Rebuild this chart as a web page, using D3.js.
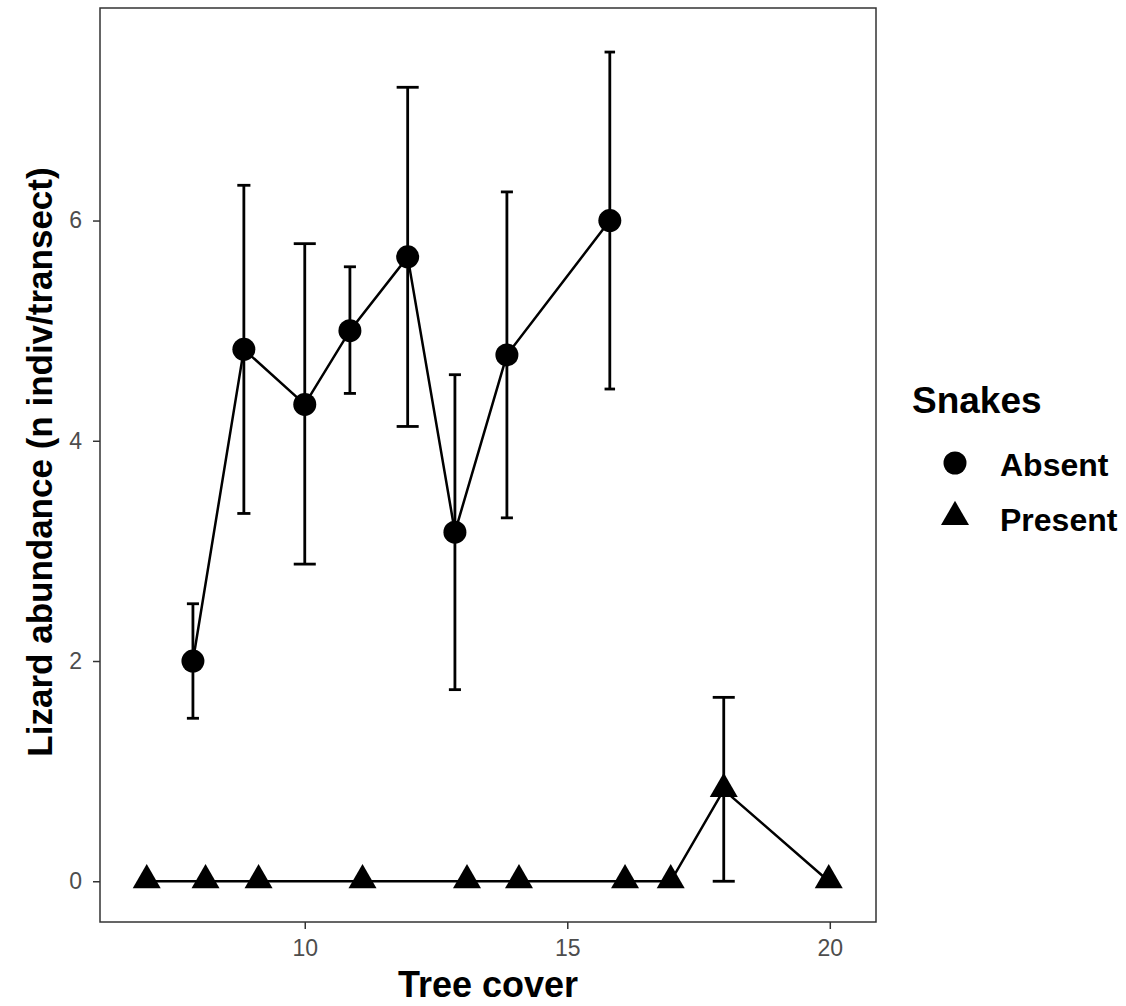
<!DOCTYPE html>
<meta charset="utf-8">
<script src="https://d3js.org/d3.v7.min.js"></script>
<style>
  body { margin: 0; background: #fff; }
  text { font-family: "Liberation Sans", Arial, sans-serif; }
</style>
<div id="my_dataviz"></div>
<script>

// data
var absentX   = [7.87, 8.84, 10.0, 10.86, 11.96, 12.86, 13.85, 15.81];
var absentY   = [2.0, 4.83, 4.33, 5.0, 5.67, 3.17, 4.78, 6.0];
var absentLo  = [1.48, 3.34, 2.88, 4.43, 4.13, 1.74, 3.3, 4.47];
var absentHi  = [2.52, 6.32, 5.79, 5.58, 7.21, 4.6, 6.26, 7.53];
var absentCap = [0.23, 0.25, 0.42, 0.23, 0.42, 0.23, 0.23, 0.2];

var presentX   = [6.99, 8.11, 9.12, 11.1, 13.09, 14.08, 16.1, 16.97, 17.98, 19.98];
var presentY   = [0, 0, 0, 0, 0, 0, 0, 0, 0.83, 0];
var presentLo  = [null, null, null, null, null, null, null, null, 0, null];
var presentHi  = [null, null, null, null, null, null, null, null, 1.67, null];
var presentCap = [0, 0, 0, 0, 0, 0, 0, 0, 0.42, 0];

var xTicks = [10, 15, 20];
var yTicks = [0, 2, 4, 6];

var groups = ["Absent", "Present"];

// layout
var W = 1126, H = 1006;
var margin = {top: 8, right: 250, bottom: 84, left: 100},
    width = 876 - margin.left,
    height = 922 - margin.top;

var svg = d3.select("#my_dataviz")
  .append("svg")
    .attr("width", W)
    .attr("height", H);

var g = svg.append("g")
    .attr("transform", "translate(" + margin.left + "," + margin.top + ")");

var x = d3.scaleLinear().domain([6.1, 20.88]).range([0, width]);
var y = d3.scaleLinear().domain([-0.37, 7.93]).range([height, 0]);

// axes
var xAxis = g.append("g")
    .attr("transform", "translate(0," + height + ")")
    .call(d3.axisBottom(x).tickValues(xTicks).tickSize(7).tickPadding(11).tickFormat(d3.format("d")));
var yAxis = g.append("g")
    .call(d3.axisLeft(y).tickValues(yTicks).tickSize(7).tickPadding(11).tickFormat(d3.format("d")));

[xAxis, yAxis].forEach(function(a) {
  a.select(".domain").remove();
  a.selectAll(".tick line").attr("stroke", "#333").attr("stroke-width", 1.5);
  a.selectAll(".tick text")
    .attr("fill", "#4d4d4d")
    .style("font-size", "23px")
    .style("font-family", "'Liberation Sans', Arial, sans-serif");
});

// panel border
g.append("rect")
    .attr("x", 0).attr("y", 0)
    .attr("width", width).attr("height", height)
    .attr("fill", "none")
    .attr("stroke", "#333")
    .attr("stroke-width", 1.5);

function makeRows(xs, ys, lo, hi, cap) {
  return xs.map(function(d, i) {
    return {x: d, y: ys[i], lo: lo[i], hi: hi[i], cap: cap[i]};
  });
}
var absent = makeRows(absentX, absentY, absentLo, absentHi, absentCap);
var present = makeRows(presentX, presentY, presentLo, presentHi, presentCap);

var line = d3.line().x(function(d) { return x(d.x); }).y(function(d) { return y(d.y); });

function drawErrors(rows) {
  var eb = g.append("g").attr("stroke", "#000").attr("stroke-width", 2.8).attr("fill", "none");
  rows.filter(function(d) { return d.lo != null; }).forEach(function(d) {
    var cx = x(d.x), hw = (x(d.x + d.cap / 2) - x(d.x - d.cap / 2)) / 2;
    eb.append("line").attr("x1", cx).attr("x2", cx).attr("y1", y(d.lo)).attr("y2", y(d.hi));
    eb.append("line").attr("x1", cx - hw).attr("x2", cx + hw).attr("y1", y(d.lo)).attr("y2", y(d.lo));
    eb.append("line").attr("x1", cx - hw).attr("x2", cx + hw).attr("y1", y(d.hi)).attr("y2", y(d.hi));
  });
}

drawErrors(absent);
drawErrors(present);

g.append("path").datum(absent).attr("d", line)
  .attr("fill", "none").attr("stroke", "#000").attr("stroke-width", 2.5);
g.append("path").datum(present).attr("d", line)
  .attr("fill", "none").attr("stroke", "#000").attr("stroke-width", 2.5);

var circleSym = d3.symbol().type(d3.symbolCircle).size(Math.PI * 11.5 * 11.5);
var triSym = d3.symbol().type(d3.symbolTriangle).size(340);

g.append("g").selectAll("path")
  .data(absent).enter().append("path")
    .attr("d", circleSym)
    .attr("transform", function(d) { return "translate(" + x(d.x) + "," + y(d.y) + ")"; })
    .attr("fill", "#000");

g.append("g").selectAll("path")
  .data(present).enter().append("path")
    .attr("d", triSym)
    .attr("transform", function(d) { return "translate(" + x(d.x) + "," + (y(d.y) - 1) + ")"; })
    .attr("fill", "#000");

// axis titles
svg.append("text")
    .attr("x", margin.left + width / 2)
    .attr("y", 997)
    .attr("text-anchor", "middle")
    .style("font-size", "36px")
    .style("font-weight", "bold")
    .text("Tree cover");

svg.append("text")
    .attr("transform", "translate(52," + 462 + ") rotate(-90)")
    .attr("text-anchor", "middle")
    .style("font-size", "35px")
    .style("font-weight", "bold")
    .text("Lizard abundance (n indiv/transect)");

// legend
var legend = svg.append("g").attr("transform", "translate(912,0)");
legend.append("text")
    .attr("x", 0).attr("y", 413)
    .style("font-size", "37px")
    .style("font-weight", "bold")
    .text("Snakes");

var syms = [circleSym, triSym];
groups.forEach(function(name, i) {
  var ly = 463 + i * 55;
  legend.append("path")
    .attr("d", syms[i])
    .attr("transform", "translate(43," + (ly - (i ? 1 : 0)) + ")")
    .attr("fill", "#000");
  legend.append("text")
    .attr("x", 88).attr("y", ly + 13)
    .style("font-size", "32px")
    .style("font-weight", "bold")
    .text(name);
});

</script>
